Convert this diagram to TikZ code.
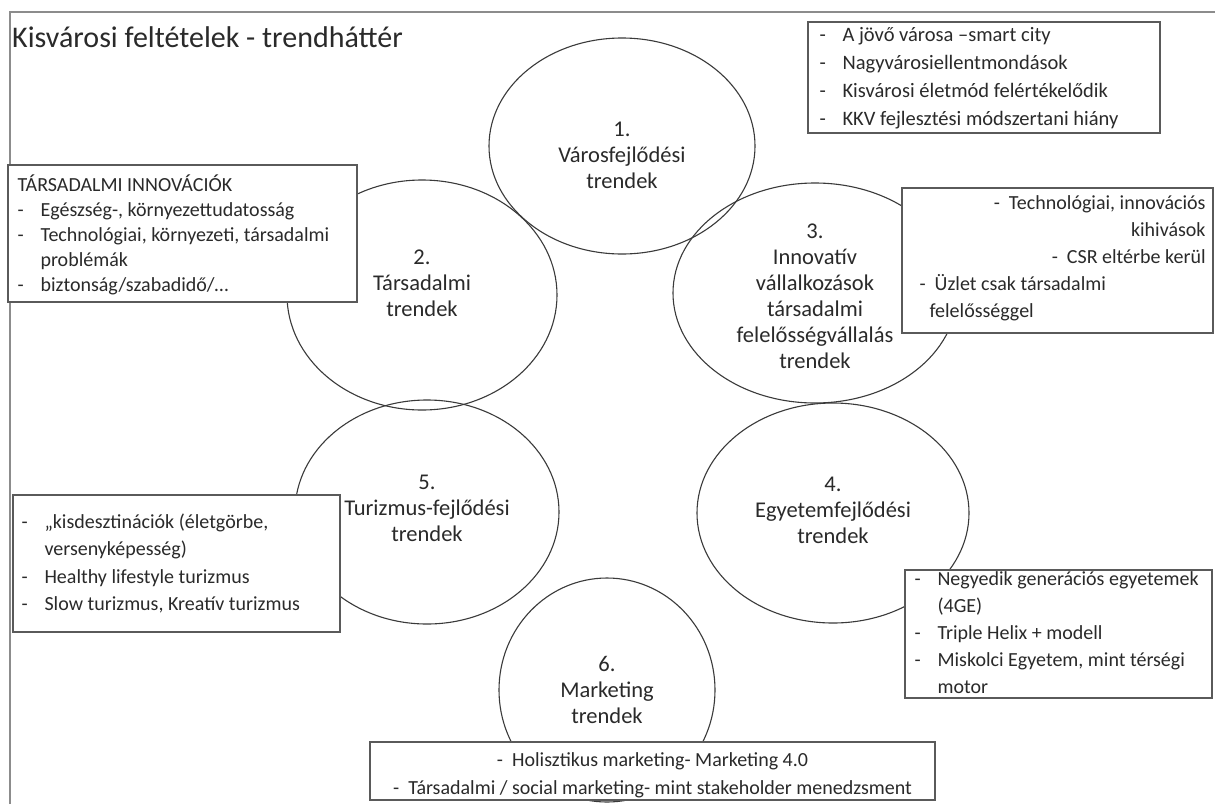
\documentclass[tikz,border=0pt]{standalone}
\usepackage{fontspec}
\setmainfont{Carlito}
\usetikzlibrary{shapes.geometric}
\definecolor{txt}{HTML}{2A2A2A}
\definecolor{ln}{HTML}{3A3A3A}
\definecolor{bx}{HTML}{5A5A5A}
\definecolor{fr}{HTML}{8C8C8C}
\newcommand\dashitem[1]{\makebox[23pt][l]{-}#1}
\newcommand\contline{\hspace*{23pt}}
\begin{document}
\begin{tikzpicture}[x=1pt,y=-1pt,
  trend/.style={ellipse, draw=ln, line width=1.1pt, inner sep=0pt},
  trendtext/.style={inner sep=0pt, align=center, text=txt, font=\fontsize{22.5}{26}\selectfont},
  infobox/.style={rectangle, draw=bx, line width=1.3pt, fill=white, inner sep=0pt},
  infotext/.style={inner sep=0pt, text=txt, align=left},
  titletext/.style={inner sep=0pt, text=txt, font=\fontsize{30}{34}\selectfont}]
\useasboundingbox (0,0) rectangle (1215,804);
\fill[white] (0,0) rectangle (1215,804);
\draw[fr, line width=1.5pt] (10,804) -- (10,12) -- (1215,12);

\node[titletext, anchor=base west] (title) at (12,47) {Kisvárosi feltételek - trendháttér};

% ellipses
\node[trend, minimum width=266pt, minimum height=216pt] (e1) at (622,146) {};
\node[trend, minimum width=270pt, minimum height=230pt] (e2) at (422,295) {};
\node[trend, minimum width=284pt, minimum height=220pt] (e3) at (815,293) {};
\node[trend, minimum width=272pt, minimum height=220pt] (e4) at (833,513) {};
\node[trend, minimum width=264pt, minimum height=224pt] (e5) at (427,512) {};
\node[trend, minimum width=216pt, minimum height=224pt] (e6) at (607,690) {};

\node[trendtext] (t1) at ([yshift=-9pt]e1.center) {1.\\Városfejlődési\\trendek};
\node[trendtext] (t2) at ([yshift=12pt]e2.center) {2.\\Társadalmi\\trendek};
\node[trendtext] (t3) at ([yshift=-3pt]e3.center) {3.\\Innovatív\\vállalkozások\\társadalmi\\felelősségvállalás\\trendek};
\node[trendtext] (t4) at ([yshift=3pt]e4.center) {4.\\Egyetemfejlődési\\trendek};
\node[trendtext] (t5) at ([yshift=4pt]e5.center) {5.\\Turizmus-fejlődési\\trendek};
\node[trendtext] (t6) at (e6.center) {6.\\Marketing\\trendek};

% boxes
\node[infobox, minimum width=352pt, minimum height=111pt] (b1) at (984,77.5) {};
\node[infobox, minimum width=349pt, minimum height=137pt] (b2) at (182.5,233.5) {};
\node[infobox, minimum width=311pt, minimum height=145pt] (b3) at (1057.5,260.5) {};
\node[infobox, minimum width=327pt, minimum height=137pt] (b5) at (176.5,563.5) {};
\node[infobox, minimum width=307pt, minimum height=128pt] (b4) at (1058.5,634) {};
\node[infobox, minimum width=565pt, minimum height=58pt] (b6) at (652.5,771) {};

\node[infotext, anchor=west, font=\fontsize{20.5}{28}\selectfont] (x1) at ([xshift=12pt,yshift=-1pt]b1.west)
  {\dashitem{A jövő városa –smart city}\\\dashitem{Nagyvárosiellentmondások}\\\dashitem{Kisvárosi életmód felértékelődik}\\\dashitem{KKV fejlesztési módszertani hiány}};
\node[infotext, anchor=west, font=\fontsize{20}{25}\selectfont] (x2) at ([xshift=10pt,yshift=-1pt]b2.west)
  {TÁRSADALMI INNOVÁCIÓK\\\dashitem{Egészség-, környezettudatosság}\\\dashitem{Technológiai, környezeti, társadalmi}\\\contline problémák\\\dashitem{biztonság/szabadidő/…}};
\node[infotext, anchor=west, font=\fontsize{20}{27}\selectfont] (x3) at ([xshift=8pt,yshift=2pt]b3.west)
  {\makebox[296pt][r]{- \ Technológiai, innovációs}\\\makebox[296pt][r]{kihivások}\\\makebox[296pt][r]{- \ CSR eltérbe kerül}\\\makebox[296pt][l]{\hspace*{10pt}- \ Üzlet csak társadalmi}\\\makebox[296pt][l]{\hspace*{20pt}felelősséggel}};
\node[infotext, anchor=west, font=\fontsize{20}{27.5}\selectfont] (x5) at ([xshift=9pt]b5.west)
  {\dashitem{„kisdesztinációk (életgörbe,}\\\contline versenyképesség)\\\dashitem{Healthy lifestyle turizmus}\\\dashitem{Slow turizmus, Kreatív turizmus}};
\node[infotext, anchor=west, font=\fontsize{20}{27}\selectfont] (x4) at ([xshift=10pt,yshift=1pt]b4.west)
  {\dashitem{Negyedik generációs egyetemek}\\\contline(4GE)\\\dashitem{Triple Helix + modell}\\\dashitem{Miskolci Egyetem, mint térségi}\\\contline motor};
\node[infotext, align=center, font=\fontsize{20}{27.5}\selectfont] (x6) at ([yshift=-4.5pt]b6.center)
  {- \ Holisztikus marketing- Marketing 4.0\\- \ Társadalmi / social marketing- mint stakeholder menedzsment};
\end{tikzpicture}
\end{document}
